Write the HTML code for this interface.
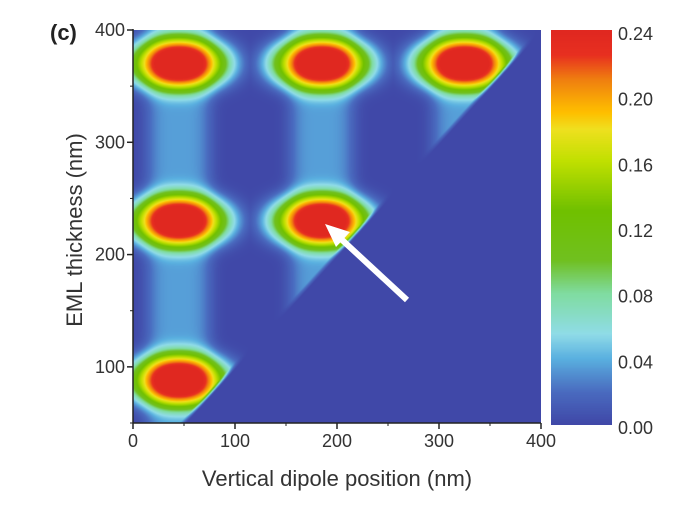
<!DOCTYPE html>
<html><head><meta charset="utf-8"><style>
body{margin:0;background:#fff;width:689px;height:513px;overflow:hidden;font-family:"Liberation Sans",sans-serif}
#wrap{position:relative;width:689px;height:513px}
canvas{position:absolute}
</style></head><body>
<div id="wrap">
<canvas id="heat" width="408" height="393" style="left:133px;top:30px"></canvas>
<canvas id="cbar" width="61" height="395" style="left:551px;top:30px"></canvas>
<svg id="ov" width="689" height="513" style="position:absolute;left:0;top:0"></svg>
</div>
<script>
// data
const blobX = [45, 185, 325, 45, 185, 45];
const blobY = [370, 370, 370, 230, 230, 88];
const peakValue = 0.24;
const columnX = [45, 185, 325];
const xTicks = [0, 100, 200, 300, 400];
const yTicks = [100, 200, 300, 400];
const cbTicks = [0.00, 0.04, 0.08, 0.12, 0.16, 0.20, 0.24];
const cmapV = [0, 0.02, 0.04, 0.055, 0.08, 0.10, 0.13, 0.16, 0.18, 0.19, 0.21, 0.225, 0.24];
const cmapC = ['#4048a8','#4a6cc0','#5ab0e0','#90dce8','#80dca0','#70c020','#70c000','#c0e000','#f0e020','#ffc000','#f08010','#e83020','#e02820'];

const X0=133, X1=541, Y0=423, Y1=30, xmin=0, xmax=400, ymin=50, ymax=400;
const sx = v => X0 + (v - xmin) / (xmax - xmin) * (X1 - X0);
const sy = v => Y0 - (v - ymin) / (ymax - ymin) * (Y0 - Y1);
const ix = p => xmin + (p - X0) / (X1 - X0) * (xmax - xmin);
const iy = p => ymin + (Y0 - p) / (Y0 - Y1) * (ymax - ymin);
const hex = h => [parseInt(h.slice(1,3),16),parseInt(h.slice(3,5),16),parseInt(h.slice(5,7),16)];
const cmapRGB = cmapC.map(hex);
function cmap(v){
  if(v<=cmapV[0]) return cmapRGB[0];
  for(let i=1;i<cmapV.length;i++){
    if(v<=cmapV[i]){const t=(v-cmapV[i-1])/(cmapV[i]-cmapV[i-1]);const a=cmapRGB[i-1],b=cmapRGB[i];
      return [a[0]+(b[0]-a[0])*t,a[1]+(b[1]-a[1])*t,a[2]+(b[2]-a[2])*t];}
  }
  return cmapRGB[cmapRGB.length-1];
}
// heatmap
const hc=document.getElementById('heat').getContext('2d');
const img=hc.createImageData(408,393);
for(let py=0;py<393;py++){for(let px=0;px<408;px++){
  const x=ix(px+X0+0.5), y=iy(py+Y1+0.5);
  let v=0;
  for(let i=0;i<blobX.length;i++){
    const dx=(x-blobX[i])/48, dy=(y-blobY[i])/24;
    const r=Math.sqrt(dx*dx+dy*dy);
    v=Math.max(v,peakValue*Math.exp(-Math.pow(r,3)));
  }
  for(let j=0;j<columnX.length;j++){
    const dx=(x-columnX[j])/32;
    v+=0.035*Math.exp(-dx*dx*dx*dx);
  }
  const edge=y-x+2;
  if(edge<0) v=0; else if(edge<6) v*=edge/6;
  const c=cmap(v); const k=(py*408+px)*4;
  img.data[k]=c[0];img.data[k+1]=c[1];img.data[k+2]=c[2];img.data[k+3]=255;
}}
hc.putImageData(img,0,0);
// colorbar
const cc=document.getElementById('cbar').getContext('2d');
for(let py=0;py<395;py++){const v=0.24*(1-py/394);const c=cmap(v);cc.fillStyle=`rgb(${c[0]|0},${c[1]|0},${c[2]|0})`;cc.fillRect(0,py,61,1);}
// overlay
const NS='http://www.w3.org/2000/svg', ov=document.getElementById('ov');
function mk(tag,attrs,txt){const e=document.createElementNS(NS,tag);for(const k in attrs)e.setAttribute(k,attrs[k]);if(txt!==undefined)e.textContent=txt;ov.appendChild(e);return e;}
let e;
e=mk('line',{x1:X0,y1:Y1-1,x2:X0,y2:Y0,stroke:'#222','stroke-width':1.5});

e=mk('line',{x1:X0,y1:Y0,x2:X1,y2:Y0,stroke:'#222','stroke-width':1.5});

xTicks.forEach((t,i)=>{
  e=mk('line',{x1:sx(t),y1:Y0,x2:sx(t),y2:Y0+6,stroke:'#222','stroke-width':1.5});
  
  if(i<xTicks.length-1){e=mk('line',{x1:sx(t+50),y1:Y0,x2:sx(t+50),y2:Y0+3,stroke:'#222','stroke-width':1});
  }
  e=mk('text',{x:sx(t),y:Y0+24,'text-anchor':'middle','font-size':18,fill:'#333'},String(t));
  
});
yTicks.forEach(t=>{
  e=mk('line',{x1:X0-6,y1:sy(t),x2:X0,y2:sy(t),stroke:'#222','stroke-width':1.5});
  
  e=mk('line',{x1:X0-3,y1:sy(t-50),x2:X0,y2:sy(t-50),stroke:'#222','stroke-width':1});
  
  e=mk('text',{x:X0-8,y:sy(t)+6,'text-anchor':'end','font-size':18,fill:'#333'},String(t));
  
});
cbTicks.forEach(t=>{
  e=mk('text',{x:618,y:427-(t/0.24)*394+7,'font-size':18,fill:'#333'},t.toFixed(2));
  
});
e=mk('text',{x:337,y:486,'text-anchor':'middle','font-size':22,fill:'#333'},'Vertical dipole position (nm)');

e=mk('text',{x:0,y:0,'text-anchor':'middle','font-size':22,fill:'#333',transform:'translate(82,230) rotate(-90)'},'EML thickness (nm)');

e=mk('text',{x:50,y:40,'font-size':22,'font-weight':'bold',fill:'#222'},'(c)');

e=mk('line',{x1:407,y1:300,x2:340,y2:238,stroke:'#fff','stroke-width':6});

e=mk('polygon',{points:'325,224 350,232 336,247',fill:'#fff'});

</script>
</body></html>
